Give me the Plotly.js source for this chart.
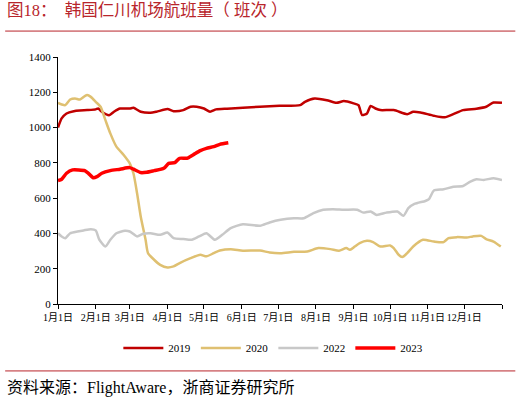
<!DOCTYPE html>
<html>
<head>
<meta charset="utf-8">
<script src="https://cdn.plot.ly/plotly-3.0.1.min.js"></script>
<style>
  html, body { margin: 0; padding: 0; background: #fff; }
  #chart { width: 520px; height: 404px; }
</style>
</head>
<body>
<div id="chart"></div>
<script>
// day of year -> flights
const days2019 = [0, 3, 7, 13, 18, 24, 31, 33, 36, 42, 46, 51, 59, 62, 68, 76, 81, 90, 95, 103, 109, 114, 120, 125, 130, 139, 152, 166, 182, 199, 203, 211, 221, 229, 235, 243, 247, 250, 254, 257, 261, 265, 276, 287, 292, 298, 309, 318, 325, 333, 344, 352, 358, 365]
const vals2019 = [1000, 1052, 1080, 1093, 1097, 1099, 1103, 1108, 1090, 1070, 1090, 1108, 1108, 1112, 1090, 1084, 1090, 1105, 1093, 1099, 1118, 1118, 1108, 1090, 1103, 1107, 1112, 1118, 1123, 1127, 1146, 1165, 1155, 1140, 1150, 1137, 1127, 1071, 1080, 1123, 1108, 1099, 1099, 1076, 1090, 1086, 1067, 1058, 1076, 1099, 1107, 1118, 1142, 1140]

const days2020 = [0, 3, 6, 10, 14, 18, 22, 24, 27, 31, 35, 39, 43, 48, 54, 59, 62, 65, 68, 72, 74, 79, 84, 90, 95, 100, 109, 117, 122, 128, 133, 142, 152, 166, 174, 183, 194, 205, 214, 224, 231, 237, 240, 244, 248, 254, 259, 265, 273, 276, 280, 283, 287, 292, 300, 309, 317, 321, 328, 336, 341, 348, 352, 358, 364]
const vals2020 = [1140, 1131, 1127, 1159, 1165, 1159, 1178, 1184, 1174, 1146, 1118, 1042, 967, 892, 845, 797, 741, 628, 496, 364, 288, 251, 222, 207, 213, 232, 260, 279, 270, 288, 303, 311, 302, 303, 292, 288, 296, 298, 317, 311, 302, 317, 307, 326, 345, 358, 351, 326, 332, 317, 279, 266, 288, 326, 364, 354, 351, 373, 379, 377, 383, 386, 368, 354, 326]

const days2022 = [0, 3, 6, 10, 16, 21, 27, 31, 34, 39, 43, 48, 55, 59, 65, 70, 76, 84, 90, 95, 103, 110, 116, 122, 129, 135, 142, 152, 166, 174, 183, 194, 202, 210, 218, 226, 235, 246, 251, 257, 262, 270, 279, 284, 288, 293, 302, 305, 309, 317, 325, 333, 339, 344, 350, 358, 365]
const vals2022 = [401, 383, 373, 401, 411, 417, 424, 417, 364, 326, 364, 401, 415, 411, 383, 398, 401, 392, 405, 373, 368, 364, 383, 401, 364, 392, 430, 452, 443, 462, 477, 486, 486, 515, 534, 537, 534, 534, 518, 524, 505, 518, 524, 500, 543, 567, 584, 594, 643, 650, 665, 669, 694, 707, 703, 713, 703]

const days2023 = [0, 3, 7, 12, 17, 22, 25, 29, 32, 36, 43, 51, 59, 62, 68, 73, 79, 87, 91, 96, 100, 106, 111, 117, 122, 128, 133, 140]
const vals2023 = [699, 707, 741, 760, 760, 756, 741, 716, 722, 741, 756, 764, 773, 764, 745, 747, 756, 769, 797, 801, 826, 826, 845, 869, 882, 892, 905, 914]

const monthStarts = [0, 31, 59, 90, 120, 151, 181, 212, 243, 273, 304, 334, 365]
const monthLabels = ['1月1日', '2月1日', '3月1日', '4月1日', '5月1日', '6月1日', '7月1日', '8月1日', '9月1日', '10月1日', '11月1日', '12月1日', '']

const serif = 'Liberation Serif, Times New Roman, Noto Sans CJK SC, serif'
const darkRed = '#B8252B'

function line(x, y, name, color, width) {
    return { x: x, y: y, name: name, type: 'scatter', mode: 'lines',
             line: { color: color, width: width, shape: 'spline', smoothing: 0.6 } }
}

const data = [
    line(days2019, vals2019, '2019', '#C00000', 2.5),
    line(days2020, vals2020, '2020', '#DFC071', 2.5),
    line(days2022, vals2022, '2022', '#C8C8C8', 2.5),
    line(days2023, vals2023, '2023', '#FF0000', 3.5),
]

const layout = {
    width: 520,
    height: 404,
    margin: { l: 58, r: 18, t: 57, b: 100 },
    paper_bgcolor: '#fff',
    plot_bgcolor: '#fff',
    font: { family: serif, size: 10, color: '#000' },
    showlegend: true,
    legend: {
        orientation: 'h', x: 0.485, xanchor: 'center', y: -0.178, yanchor: 'middle',
        font: { family: serif, size: 11, color: '#000' },
        itemwidth: 40, tracegroupgap: 0,
    },
    xaxis: {
        range: [0, 365],
        tickvals: monthStarts,
        ticktext: monthLabels,
        tickangle: 0,
        showgrid: false,
        zeroline: false,
        showline: true, linecolor: '#000', linewidth: 1,
        ticks: 'outside', ticklen: 4, tickcolor: '#000',
        tickfont: { family: serif, size: 10, color: '#000' },
    },
    yaxis: {
        range: [0, 1400],
        dtick: 200,
        showgrid: false,
        zeroline: false,
        showline: true, linecolor: '#000', linewidth: 1,
        ticks: 'outside', ticklen: 4, tickcolor: '#000',
        tickfont: { family: serif, size: 11, color: '#000' },
    },
    shapes: [
        { type: 'line', xref: 'paper', yref: 'paper', x0: -0.119, x1: 1.03, y0: 1.105, y1: 1.105,
          line: { color: darkRed, width: 1 } },
        { type: 'line', xref: 'paper', yref: 'paper', x0: -0.119, x1: 1.03, y0: -0.271, y1: -0.271,
          line: { color: darkRed, width: 1 } },
    ],
    annotations: [
        { xref: 'paper', yref: 'paper', x: -0.119, y: 1.19, xanchor: 'left', yanchor: 'middle',
          showarrow: false, text: '图18：\u00A0\u00A0韩国仁川机场航班量（\u00A0班次\u00A0）',
          font: { family: 'Liberation Serif, Noto Sans CJK SC, serif', size: 16.5, color: darkRed } },
        { xref: 'paper', yref: 'paper', x: -0.119, y: -0.34, xanchor: 'left', yanchor: 'middle',
          showarrow: false, text: '资料来源：FlightAware，浙商证券研究所',
          font: { family: 'Liberation Serif, Noto Sans CJK SC, serif', size: 16, color: '#000' } },
    ],
}

Plotly.newPlot(document.getElementById('chart'), data, layout, { displayModeBar: false, staticPlot: true })
</script>
</body>
</html>
